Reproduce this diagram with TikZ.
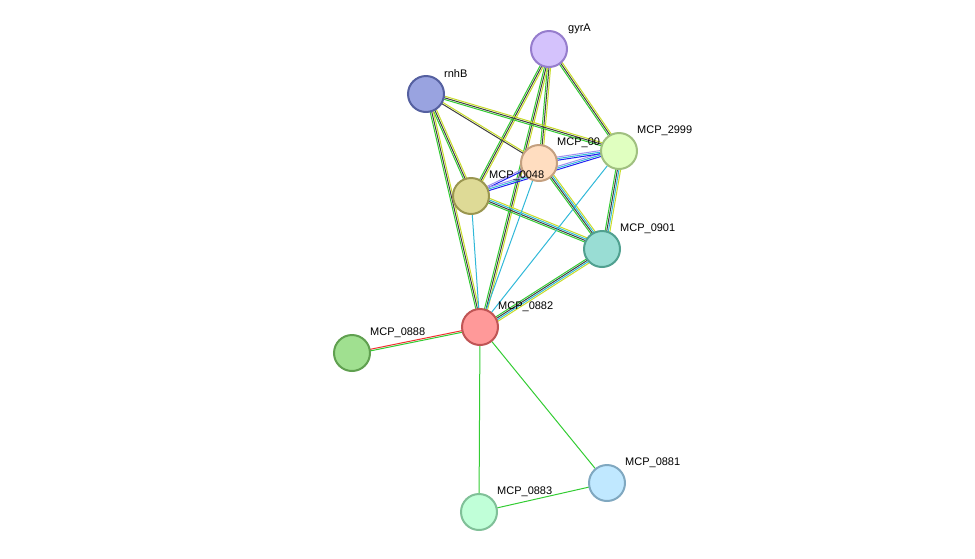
\documentclass[tikz,border=0pt]{standalone}
\usepackage{fontspec}
\setmainfont{Liberation Sans}
\usetikzlibrary{calc}
\definecolor{eg}{HTML}{33CC33}
\definecolor{ek}{HTML}{404040}
\definecolor{ey}{HTML}{C8DC28}
\definecolor{eb}{HTML}{2020F0}
\definecolor{ec}{HTML}{30B8D8}
\definecolor{ep}{HTML}{A090F0}
\definecolor{er}{HTML}{F03030}
\newcommand{\medge}[3]{%
  \foreach \c [count=\i] in {#3} {
    \pgfmathsetmacro{\off}{(\i-1)*1.6}
    \draw[\c, line width=1pt] ($(#1)!\off pt!90:(#2)$) -- ($(#2)!\off pt!-90:(#1)$);
  }}
\tikzset{
  prot/.style={circle, minimum size=36pt, inner sep=0pt, line width=2pt},
  lab/.style={font=\fontsize{11}{13}\selectfont, anchor=south west, inner sep=0pt}
}
\begin{document}
\begin{tikzpicture}[x=1pt,y=-1pt]
\useasboundingbox (0,0) rectangle (975,558);
\coordinate (gyrA) at (549,49);
\coordinate (rnhB) at (426,94);
\coordinate (m00) at (539,163);
\coordinate (m2999) at (619,151);
\coordinate (m0048) at (471,196);
\coordinate (m0901) at (602,249);
\coordinate (m0882) at (480,327);
\coordinate (m0888) at (352,353);
\coordinate (m0881) at (607,483);
\coordinate (m0883) at (479,512);
% edges
\medge{gyrA}{m0048}{eg,ek,ey}
\medge{gyrA}{m00}{eg,ek,ey}
\medge{gyrA}{m2999}{eg,ek,ey}
\medge{gyrA}{m0882}{eg,ek,ey}
\medge{rnhB}{m2999}{eg,ek,ey}
\medge{rnhB}{m00}{ek,ey}
\medge{rnhB}{m0048}{eg,ek,ey}
\medge{rnhB}{m0882}{eg,ek,ey}
\medge{m0048}{m00}{eb,ep}
\medge{m0048}{m2999}{eb,ec,ep}
\medge{m00}{m2999}{eb,ec,ep}
\medge{m0048}{m0901}{eg,ek,ec,ey}
\medge{m00}{m0901}{eg,ek,ec,ey}
\medge{m2999}{m0901}{eg,ek,ec,ey}
\medge{m0901}{m0882}{eg,ek,ec,ey}
\medge{m0048}{m0882}{ec}
\medge{m00}{m0882}{ec}
\medge{m2999}{m0882}{ec}
\medge{m0882}{m0888}{er,eg}
\medge{m0882}{m0881}{eg}
\medge{m0882}{m0883}{eg}
\medge{m0883}{m0881}{eg}
% nodes
\node[prot, fill={rgb,255:red,212;green,194;blue,252}, draw={rgb,255:red,150;green,125;blue,205}] (ngyrA) at (gyrA) {};
\node[lab] at (568,34) {gyrA};
\node[prot, fill={rgb,255:red,153;green,163;blue,224}, draw={rgb,255:red,85;green,96;blue,160}] (nrnhB) at (rnhB) {};
\node[lab] at (444,78) {rnhB};
\node[prot, fill={rgb,255:red,255;green,221;blue,192}, draw={rgb,255:red,196;green,160;blue,128}] (n00) at (m00) {};
\node[lab] at (557,148) {MCP\_00};
\node[prot, fill={rgb,255:red,224;green,255;blue,192}, draw={rgb,255:red,160;green,192;blue,128}] (n2999) at (m2999) {};
\node[lab] at (637,136) {MCP\_2999};
\node[prot, fill={rgb,255:red,222;green,218;blue,150}, draw={rgb,255:red,154;green,150;blue,80}] (n0048) at (m0048) {};
\node[lab] at (489,181) {MCP\_0048};
\node[prot, fill={rgb,255:red,153;green,221;blue,212}, draw={rgb,255:red,80;green,160;blue,144}] (n0901) at (m0901) {};
\node[lab] at (620,234) {MCP\_0901};
\node[prot, fill={rgb,255:red,255;green,153;blue,153}, draw={rgb,255:red,192;green,85;blue,85}] (n0882) at (m0882) {};
\node[lab] at (498,312) {MCP\_0882};
\node[prot, fill={rgb,255:red,160;green,224;blue,144}, draw={rgb,255:red,96;green,160;blue,80}] (n0888) at (m0888) {};
\node[lab] at (370,338) {MCP\_0888};
\node[prot, fill={rgb,255:red,192;green,232;blue,255}, draw={rgb,255:red,128;green,168;blue,192}] (n0881) at (m0881) {};
\node[lab] at (625,468) {MCP\_0881};
\node[prot, fill={rgb,255:red,192;green,255;blue,216}, draw={rgb,255:red,128;green,192;blue,152}] (n0883) at (m0883) {};
\node[lab] at (497,497) {MCP\_0883};
\end{tikzpicture}
\end{document}
